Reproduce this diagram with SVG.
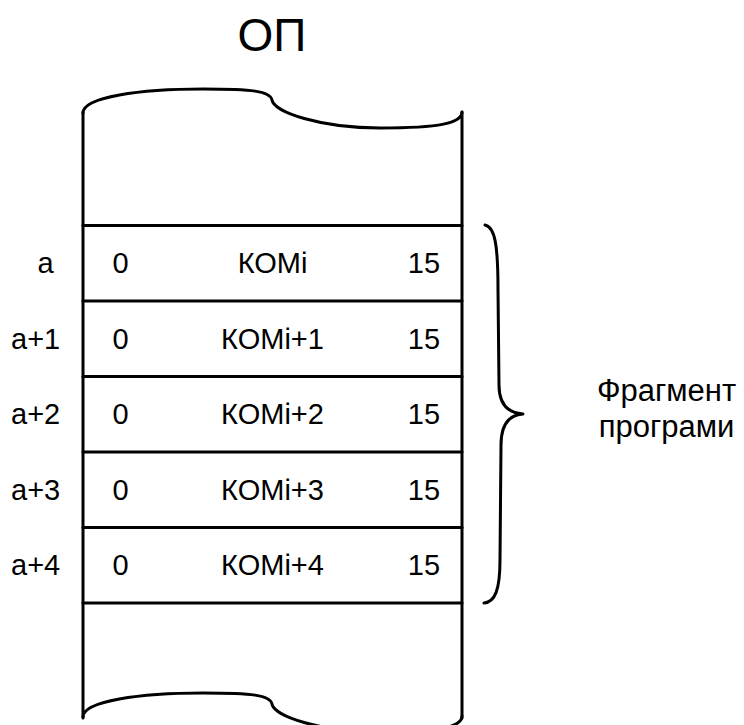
<svg xmlns="http://www.w3.org/2000/svg" width="744" height="725" viewBox="0 0 744 725">
  <style>
    .ln { fill: none; stroke: #000; stroke-width: 3; stroke-linecap: round; stroke-linejoin: round; }
    .t { font-family: "Liberation Sans", Arial, sans-serif; font-size: 29px; fill: #000; }
    .m { text-anchor: middle; }
    .big { font-size: 46px; }
    .note { font-size: 31px; }
  </style>
  <rect width="744" height="725" fill="#fff"/>

  <!-- memory title -->
  <g id="title">
    <text class="t m big" x="272" y="51">ОП</text>
  </g>

  <!-- memory block outline with torn top and bottom edges -->
  <g id="memory">
    <path class="ln" d="M83,113 C83,97 140,89 203,89 C252,89 270,91 272,100 C274,112 320,128 380,128 C440,128 462,123 462,112"/>
    <path class="ln" d="M83,717 C83,701 140,693 203,693 C252,693 270,695 272,704 C274,716 320,732 380,732 C440,732 462,727 462,716"/>
    <line class="ln" x1="83" y1="112" x2="83" y2="718"/>
    <line class="ln" x1="462" y1="112" x2="462" y2="718"/>
    <line class="ln" x1="83" y1="225.5" x2="462" y2="225.5"/>
  </g>

  <!-- memory words -->
  <g id="word0">
    <line class="ln" x1="83" y1="301" x2="462" y2="301"/>
    <text class="t m" x="45.5" y="273">a</text>
    <text class="t m" x="120.5" y="273">0</text>
    <text class="t m" x="272.5" y="273">КОМі</text>
    <text class="t m" x="424" y="273">15</text>
  </g>
  <g id="word1">
    <line class="ln" x1="83" y1="376.5" x2="462" y2="376.5"/>
    <text class="t" x="11" y="348.5">a+1</text>
    <text class="t m" x="120.5" y="348.5">0</text>
    <text class="t m" x="272.5" y="348.5">КОМі+1</text>
    <text class="t m" x="424" y="348.5">15</text>
  </g>
  <g id="word2">
    <line class="ln" x1="83" y1="452" x2="462" y2="452"/>
    <text class="t" x="11" y="424">a+2</text>
    <text class="t m" x="120.5" y="424">0</text>
    <text class="t m" x="272.5" y="424">КОМі+2</text>
    <text class="t m" x="424" y="424">15</text>
  </g>
  <g id="word3">
    <line class="ln" x1="83" y1="527.5" x2="462" y2="527.5"/>
    <text class="t" x="11" y="499.5">a+3</text>
    <text class="t m" x="120.5" y="499.5">0</text>
    <text class="t m" x="272.5" y="499.5">КОМі+3</text>
    <text class="t m" x="424" y="499.5">15</text>
  </g>
  <g id="word4">
    <line class="ln" x1="83" y1="603" x2="462" y2="603"/>
    <text class="t" x="11" y="575">a+4</text>
    <text class="t m" x="120.5" y="575">0</text>
    <text class="t m" x="272.5" y="575">КОМі+4</text>
    <text class="t m" x="424" y="575">15</text>
  </g>

  <!-- curly brace grouping the program words -->
  <g id="brace">
    <path class="ln" d="M485,225 C495,227 498,245 498,290 L499,385 C499,405 508,413 523,414 C508,415 501,425 501,445 L500,560 C500,590 495,602 484,603"/>
  </g>

  <g id="fragment-label">
    <text class="t m note" x="666.5" y="401">Фрагмент</text>
    <text class="t m note" x="666.5" y="437">програми</text>
  </g>
</svg>
